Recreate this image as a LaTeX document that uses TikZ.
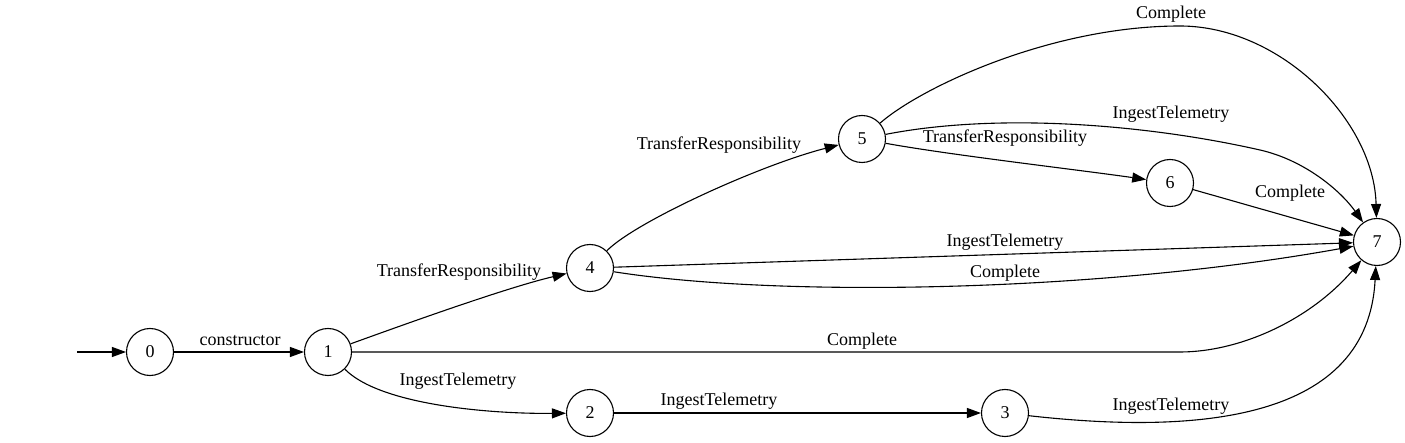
\documentclass[tikz,border=0pt]{standalone}
\usepackage{fontspec}
\setmainfont{Liberation Serif}
\newfontfamily\tms{Liberation Serif}
\usetikzlibrary{arrows.meta}
\begin{document}
\begin{tikzpicture}[x=1pt,y=-1pt,
  st/.style={circle,draw,line width=1.1pt,minimum size=47pt,inner sep=0pt,font=\tms\fontsize{18}{20}\selectfont},
  lab/.style={font=\tms\fontsize{18}{20}\selectfont,inner sep=0pt},
  edge/.style={line width=1.1pt,-{Triangle[length=14pt,width=10pt]}}]
\useasboundingbox[fill=white] (0,0) rectangle (1405,443);
% states
\node[st] (n0) at (150,352) {0};
\node[st] (n1) at (328,352) {1};
\node[st] (n2) at (590,413) {2};
\node[st] (n3) at (1005,413) {3};
\node[st] (n4) at (590,268) {4};
\node[st] (n5) at (862,139) {5};
\node[st] (n6) at (1170,183) {6};
\node[st] (n7) at (1377,242) {7};
% waypoints
\coordinate (s0) at (77,352);
\coordinate (w17) at (1180,352);
\coordinate (w57a) at (1260,150);
\coordinate (w57b) at (1180,26);
% edges
\draw[edge] (s0) -- (n0);
\draw[edge] (n0) -- (n1);
\draw[edge] (n1) .. controls (400,326) and (505,288) .. (n4);
\draw[edge] (n1) .. controls (380,405) and (490,414) .. (n2);
\draw[edge] (n1) -- (w17) .. controls (1240,352) and (1310,320) .. (n7);
\draw[edge] (n2) -- (n3);
\draw[edge] (n3) .. controls (1200,435) and (1368,420) .. (n7);
\draw[edge] (n4) .. controls (635,222) and (760,165) .. (n5);
\draw[edge] (n4) -- (n7);
\draw[edge] (n4) .. controls (780,298) and (1100,292) .. (n7);
\draw[edge] (n5) .. controls (950,155) and (1080,170) .. (n6);
\draw[edge] (n5) .. controls (1000,112) and (1150,125) .. (w57a) .. controls (1304,160) and (1340,190) .. (n7);
\draw[edge] (n5) .. controls (920,88) and (1050,26) .. (w57b) .. controls (1280,26) and (1374,120) .. (n7);
\draw[edge] (n6) -- (n7);
% labels
\node[lab] (l01) at (240,341) {constructor};
\node[lab] (l14) at (459,272) {TransferResponsibility};
\node[lab] (l12) at (458,381) {IngestTelemetry};
\node[lab] (l17) at (862,341) {Complete};
\node[lab] (l23) at (719,401) {IngestTelemetry};
\node[lab] (l37) at (1171,406) {IngestTelemetry};
\node[lab] (l45) at (719,145) {TransferResponsibility};
\node[lab] (l47a) at (1005,242) {IngestTelemetry};
\node[lab] (l47b) at (1005,273) {Complete};
\node[lab] (l56) at (1005,138) {TransferResponsibility};
\node[lab] (l57a) at (1171,114) {IngestTelemetry};
\node[lab] (l57b) at (1171,14) {Complete};
\node[lab] (l67) at (1290,193) {Complete};
\end{tikzpicture}
\end{document}
